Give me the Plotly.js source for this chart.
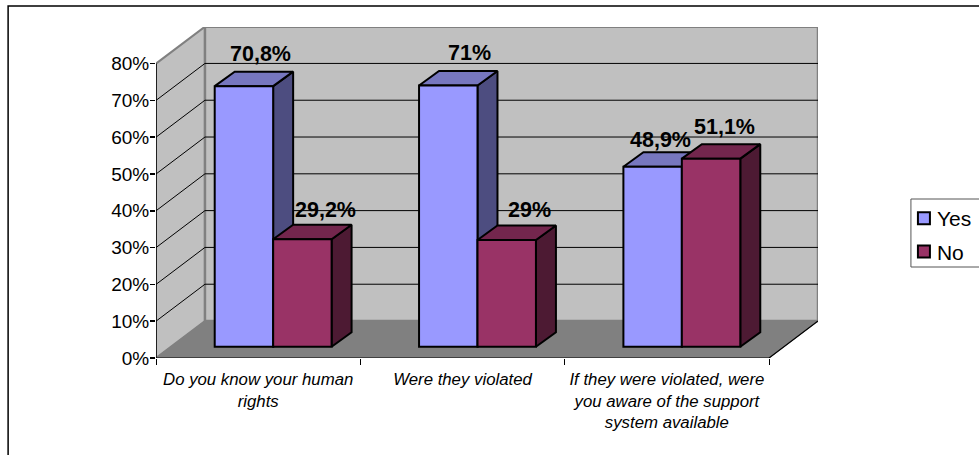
<!DOCTYPE html>
<html><head><meta charset="utf-8">
<script src="https://cdn.plot.ly/plotly-3.0.1.min.js"></script>
<style>html,body{margin:0;padding:0;background:#fff;overflow:hidden}</style>
</head><body><div id="chart" style="width:979px;height:455px"></div>
<script>
const categories = ["Do you know your human<br>rights", "Were they violated", "If they were violated, were<br>you aware of the support<br>system available"];
const yesValues = [70.8, 71, 48.9];
const noValues = [29.2, 29, 51.1];
const yesLabels = ["70,8%", "71%", "48,9%"];
const noLabels = ["29,2%", "29%", "51,1%"];
const yTicks = [0, 10, 20, 30, 40, 50, 60, 70, 80];
// manual label offsets (px) relative to bar top centre
const yesLabelDx = [17, 21, 8];
const yesLabelDy = [32, 32, 27];
const noLabelDx = [23, 23, 13];
const noLabelDy = [29, 30, 32];

// geometry in axis units
const nCat = categories.length;
const wallDx = 0.2396, wallDy = 10.05;   // depth of the chart box
const planeDx = 0.0733, planeDy = 3.07;  // plane of bar fronts relative to the front plane
const barDx = 0.0978, barDy = 3.94;      // depth of each bar
const barW = 0.286;
const yMax = 89.95;

function wallTrace(xs, ys, fill, line, lw) {
  return {type:'scatter', mode:'lines', x:xs, y:ys, xaxis:'x', yaxis:'y', fill:'toself', fillcolor:fill,
    line:{color:line, width:lw}, hoverinfo:'skip', showlegend:false};
}
function lineTrace(xs, ys, color, w) {
  return {type:'scatter', mode:'lines', x:xs, y:ys, xaxis:'x', yaxis:'y', line:{color:color, width:w},
    hoverinfo:'skip', showlegend:false, connectgaps:false};
}
const top80 = yTicks[yTicks.length-1];
const traces = [];
// side wall, back wall, floor
traces.push(wallTrace([0,0,wallDx,wallDx,0],[0,top80,top80+wallDy,wallDy,0],'#C0C0C0','#808080',2));
traces.push(wallTrace([wallDx,nCat+wallDx,nCat+wallDx,wallDx,wallDx],[wallDy,wallDy,top80+wallDy,top80+wallDy,wallDy],'#C0C0C0','#808080',2.5));
traces.push(wallTrace([0,nCat,nCat+wallDx,wallDx,0],[0,0,wallDy,wallDy,0],'#808080','#808080',1));
// gridlines
const gx = [], gy = [];
yTicks.slice(1, -1).forEach(v => { gx.push(0, wallDx, nCat+wallDx, null); gy.push(v, v+wallDy, v+wallDy, null); });
traces.push(lineTrace(gx, gy, '#000', 1));
// axis lines
traces.push(lineTrace([0,0],[0,top80],'#000',1.5));
traces.push(lineTrace([0,nCat,nCat+wallDx],[0,0,wallDy],'#000',1.2));

// 3D faces of bars, from the values
function faces(values, slot, color, faceKey) {
  const xs = [], ys = [];
  values.forEach((v, i) => {
    const l = i + 0.5 + (slot === 0 ? -barW : 0), r = l + barW;
    if (faceKey === 'top') {
      xs.push(l, r, r+barDx, l+barDx, l, null);
      ys.push(v, v, v+barDy, v+barDy, v, null);
    } else {
      xs.push(r, r+barDx, r+barDx, r, r, null);
      ys.push(0, barDy, v+barDy, v, 0, null);
    }
  });
  return {type:'scatter', mode:'lines', x:xs, y:ys, xaxis:'x2', yaxis:'y2', fill:'toself', fillcolor:color,
    line:{color:'#000', width:2}, hoverinfo:'skip', showlegend:false};
}
traces.push(faces(yesValues, 0, '#4D4D80', 'side'));
traces.push(faces(yesValues, 0, '#7777BF', 'top'));
traces.push(faces(noValues, 1, '#4D1A33', 'side'));
traces.push(faces(noValues, 1, '#73264D', 'top'));

const centers = categories.map((_, i) => i + 0.5);
traces.push({type:'bar', name:'Yes', x:centers, y:yesValues, xaxis:'x3', yaxis:'y3', legendgroup:'a',
  marker:{color:'#9999FF', line:{color:'#000', width:2}}, hoverinfo:'skip'});
traces.push({type:'bar', name:'No', x:centers, y:noValues, xaxis:'x3', yaxis:'y3', legendgroup:'b',
  marker:{color:'#993366', line:{color:'#000', width:2}}, hoverinfo:'skip'});

const annos = [];
function addLabels(values, labels, slot, dxs, dys) {
  values.forEach((v, i) => annos.push({xref:'x3', yref:'y3', x:i+0.5+(slot===0?-barW/2:barW/2), y:v, text:'<b>'+labels[i]+'</b>',
    showarrow:false, xshift:dxs[i], yshift:dys[i], font:{family:'Liberation Sans, Arial, sans-serif', size:21.5, color:'#000'}}));
}
addLabels(yesValues, yesLabels, 0, yesLabelDx, yesLabelDy);
addLabels(noValues, noLabels, 1, noLabelDx, noLabelDy);

const xRange = [0, nCat + wallDx], yRange = [0, yMax];
const hidden = {visible:false, fixedrange:true};
const layout = {
  width:979, height:455, margin:{l:155.5, r:161, t:27, b:97, pad:0, autoexpand:false},
  paper_bgcolor:'#fff', plot_bgcolor:'rgba(0,0,0,0)',
  barmode:'group', bargap:1-2*barW, bargroupgap:0,
  font:{family:'Liberation Sans, Arial, sans-serif', color:'#000'},
  xaxis:{range:xRange, showgrid:false, zeroline:false, showline:false, tickmode:'array', tickvals:centers,
    ticktext:categories.map(c => '<i>'+c+'</i>'), ticks:'', tickangle:0, ticklabelstandoff:9, tickfont:{size:16.8, color:'#000'},
    minor:{tickmode:'array', tickvals:[0,1,2,3], ticks:'outside', ticklen:6, tickcolor:'#000', tickwidth:1, showgrid:false}},
  yaxis:{range:yRange, showgrid:false, zeroline:false, showline:false, tickmode:'array', tickvals:yTicks,
    ticktext:yTicks.map(v => v+'%'), ticks:'outside', ticklen:5, tickcolor:'#000', tickwidth:1.5, ticklabelstandoff:-3, tickfont:{size:19, color:'#000'}},
  xaxis2:Object.assign({overlaying:'x', anchor:'y2', range:[-planeDx, nCat+wallDx-planeDx]}, hidden),
  yaxis2:Object.assign({overlaying:'y', anchor:'x2', range:[-planeDy, yMax-planeDy]}, hidden),
  xaxis3:Object.assign({overlaying:'x', anchor:'y3', range:[-planeDx, nCat+wallDx-planeDx]}, hidden),
  yaxis3:Object.assign({overlaying:'y', anchor:'x3', range:[-planeDy, yMax-planeDy]}, hidden),
  showlegend:true,
  legend:{x:(912-155.5)/662.5, xref:'paper', y:1-(198/455), yref:'container', xanchor:'left', yanchor:'top', bgcolor:'rgba(0,0,0,0)', borderwidth:0,
    traceorder:'grouped', tracegroupgap:3, indentation:-15, font:{size:21, color:'#000'}},
  shapes:[
    {type:'rect', xref:'paper', yref:'paper', layer:'below', x0:(7.5-155.5)/662.5, x1:(1000-155.5)/662.5, y0:(358-480)/331, y1:(358-6)/331, line:{color:'#000', width:1.5}, fillcolor:'rgba(0,0,0,0)'},
    {type:'rect', xref:'paper', yref:'paper', layer:'below', x0:(911-155.5)/662.5, x1:(1000-155.5)/662.5, y0:(358-267)/331, y1:(358-199)/331, line:{color:'#555', width:1}, fillcolor:'#fff'}
  ],
  annotations:annos
};
Plotly.newPlot('chart', traces, layout, {displayModeBar:false, staticPlot:true}).then(gd => {
  // the reference keeps the swatch close to its text
  gd.querySelectorAll('.legend .legendpoints').forEach(g => g.setAttribute('transform', 'translate(7,0)'));
});
</script></body></html>
